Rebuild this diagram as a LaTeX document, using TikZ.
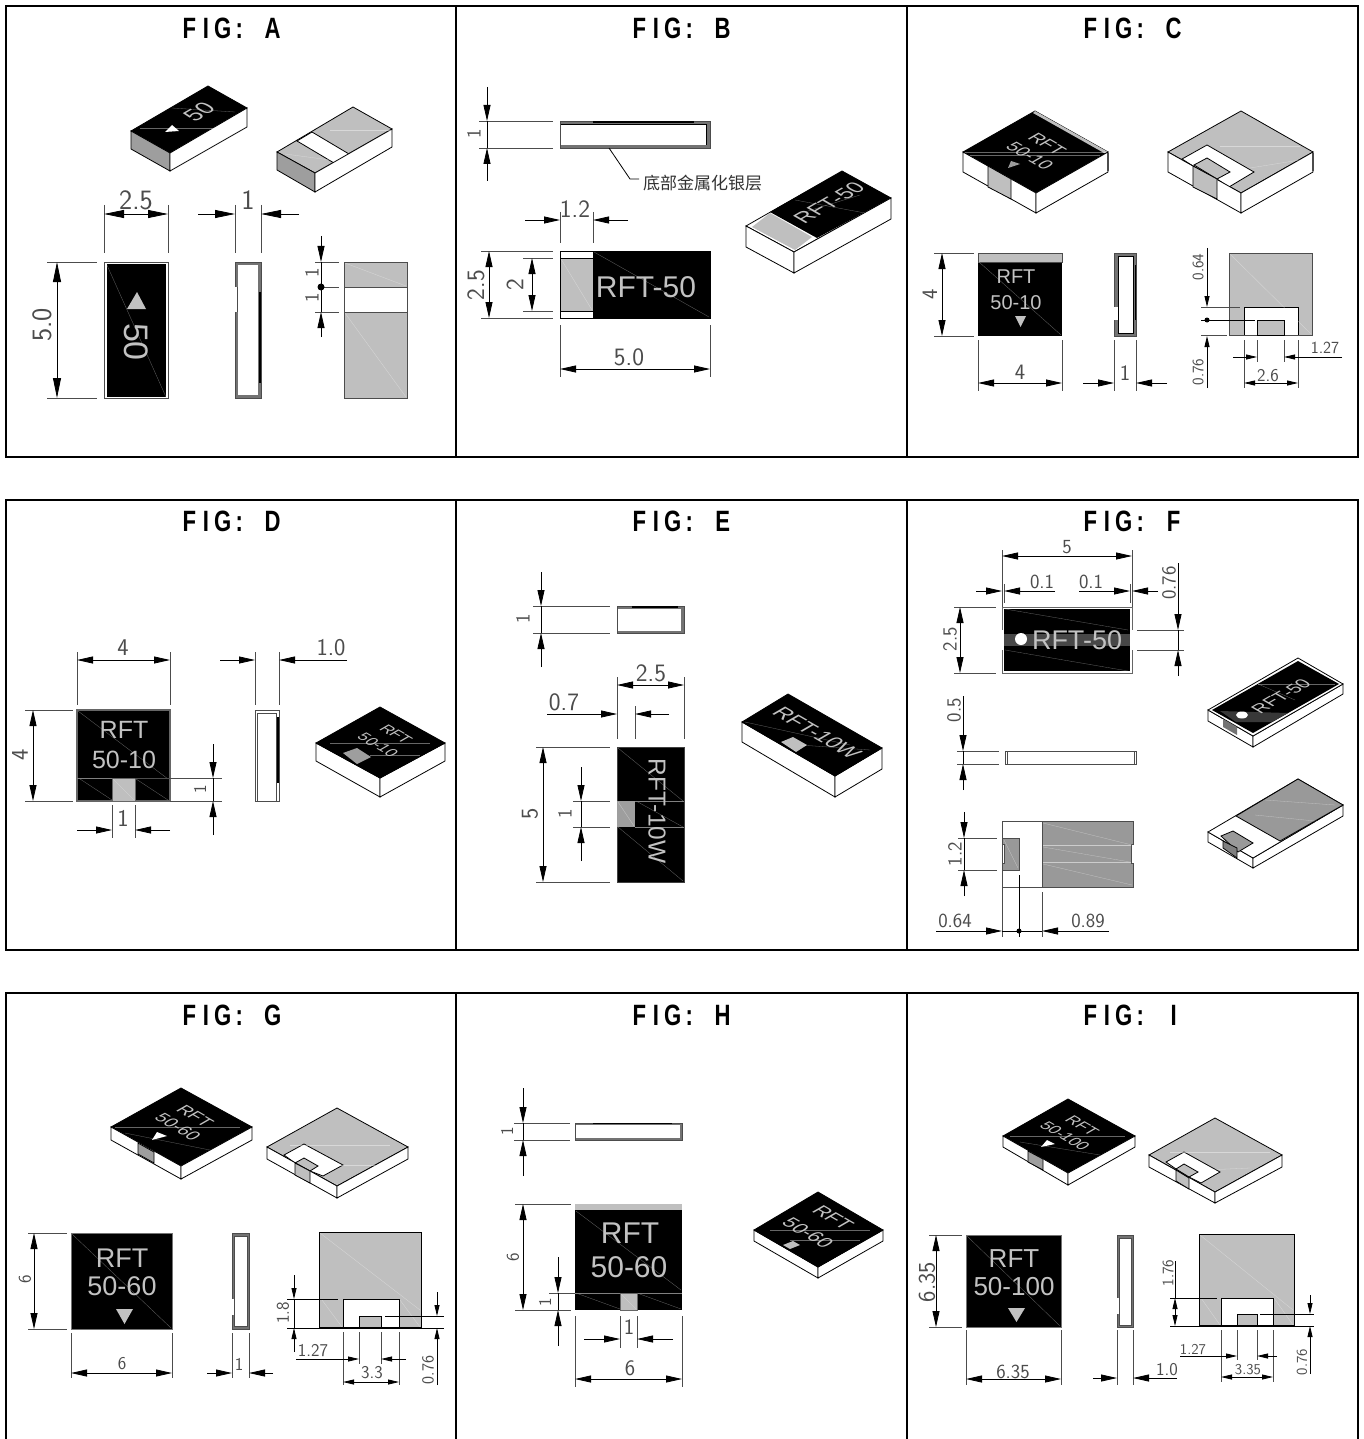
\documentclass[tikz,border=0pt]{standalone}
\usepackage{fontspec}
\setmainfont{Liberation Sans}
\newfontfamily\cjkfont{Noto Sans CJK SC}
\usetikzlibrary{arrows.meta}
\usetikzlibrary{shapes.geometric}
\definecolor{padgray}{gray}{.75}
\definecolor{sidegray}{gray}{.62}
\definecolor{textgray}{gray}{.76}
\definecolor{dimgray}{gray}{.3}
\newcommand{\figlabel}[1]{\scalebox{.85}[1.13]{\makebox[19.6pt]{F}\makebox[19.6pt]{I}\makebox[19.6pt]{G}\makebox[19.6pt]{:}\makebox[19.6pt]{}\makebox[19.6pt]{#1}}}
\tikzset{
    framebox/.style={black,line width=2pt},
    figtitle/.style={font=\bfseries\fontsize{26}{26}\selectfont,inner sep=0},
    partline/.style={black,line width=.8pt},
    ext/.style={black!70,line width=.8pt},
    dimbig/.style={black,line width=.8pt,>={Triangle[length=20pt,width=8pt]}},
    dimmid/.style={black,line width=.8pt,>={Triangle[length=16pt,width=7pt]}},
    dimtiny/.style={black,line width=.8pt,>={Triangle[length=11pt,width=5pt]}},
    dimtext/.style={font=\sffamily\fontsize{#1}{#1}\selectfont,text=dimgray,inner sep=0},
    parttext/.style={font=\fontsize{#1}{#1}\selectfont,text=textgray,inner sep=0},
    isoup/.style={cm={.866,.5,-.866,.5,(0,0)}},
    isodown/.style={cm={.866,-.5,.866,.5,(0,0)}},
    blackface/.style={fill=black,draw=black,line width=.8pt},
    grayface/.style={fill=padgray,draw=black,line width=.8pt},
    darkface/.style={fill=sidegray,draw=black,line width=.8pt},
    whiteface/.style={fill=white,draw=black,line width=.8pt},
    sidewall/.style={fill=black!55,draw=black!70,line width=.8pt},
    scratch/.style={white,opacity=.4,line width=.3pt},
    dot/.style={circle,fill=black,inner sep=0,minimum size=#1},
}
\begin{document}
\begin{tikzpicture}[x=1pt,y=-1pt]
    \useasboundingbox (0,0) rectangle (1364,1439);
    \fill[white] (0,0) rectangle (1364,1439);

    \draw[framebox] (6,6) rectangle (1358,457);
    \draw[framebox] (456,6) -- (456,457);
    \draw[framebox] (907,6) -- (907,457);
    \draw[framebox] (6,500) rectangle (1358,950);
    \draw[framebox] (456,500) -- (456,950);
    \draw[framebox] (907,500) -- (907,950);
    \draw[framebox] (6,1439) -- (6,993) -- (1358,993) -- (1358,1439);
    \draw[framebox] (456,993) -- (456,1439);
    \draw[framebox] (907,993) -- (907,1439);

    \node[figtitle] (titleA) at (231,28) {\figlabel{A}};
    \node[figtitle] (titleB) at (681,28) {\figlabel{B}};
    \node[figtitle] (titleC) at (1132,28) {\figlabel{C}};
    \node[figtitle] (titleD) at (231,521) {\figlabel{D}};
    \node[figtitle] (titleE) at (681,521) {\figlabel{E}};
    \node[figtitle] (titleF) at (1132,521) {\figlabel{F}};
    \node[figtitle] (titleG) at (231,1015) {\figlabel{G}};
    \node[figtitle] (titleH) at (681,1015) {\figlabel{H}};
    \node[figtitle] (titleI) at (1132,1015) {\figlabel{I}};

    \draw[blackface] (131,131) -- (208,86) -- (247,108) -- (170,153) -- cycle;
    \draw[darkface] (131,131) -- (170,153) -- (170,171) -- (131,149) -- cycle;
    \draw[whiteface] (170,153) -- (247,108) -- (247,127) -- (170,171) -- cycle;
    \draw[scratch] (140,128) -- (218,128);
    \draw[scratch] (172,108) -- (235,112);
    \fill[white] (172,125) -- (179,131) -- (165,132) -- cycle;
    \node[parttext=23,isoup] (isoA50) at (199,112) {50};

    \draw[grayface] (277,152) -- (353,107) -- (392,129) -- (315,173) -- cycle;
    \draw[partline,fill=white] (297,141) -- (312,132) -- (349,154) -- (334,163) -- cycle;
    \draw[darkface] (277,152) -- (315,173) -- (315,192) -- (277,170) -- cycle;
    \draw[whiteface] (315,173) -- (392,129) -- (392,147) -- (315,192) -- cycle;
    \draw[scratch] (330,130) -- (390,130);
    \draw[scratch] (285,154) -- (330,160);

    \draw[ext] (104,205) -- (104,253);
    \draw[ext] (168,205) -- (168,253);
    \draw[dimbig,<->] (104,214) -- (168,214);
    \node[dimtext=28] (dimA25) at (136,200) {2.5};
    \draw[ext] (235,205) -- (235,253);
    \draw[ext] (261,205) -- (261,253);
    \draw[dimbig,->] (198,214) -- (235,214);
    \draw[dimbig,->] (299,214) -- (261,214);
    \node[dimtext=28] (dimA1) at (248,200) {1};

    \draw[black!70,line width=1pt,fill=white] (104.5,262) rectangle (168,398);
    \fill[black] (106.5,264) rectangle (166,397);
    \draw[scratch] (106.5,264) -- (166,397);
    \fill[textgray] (137,292) -- (127,309) -- (146,309) -- cycle;
    \node[parttext=34,rotate=-90] (topA50) at (136,342) {50};
    \draw[ext] (47,262) -- (97,262);
    \draw[ext] (47,398) -- (97,398);
    \draw[dimbig,<->] (57,262) -- (57,398);
    \node[dimtext=28,rotate=90] (dimA50) at (42,325) {5.0};

    \draw[sidewall] (235.5,262) rectangle (261,398);
    \fill[white] (238,265) rectangle (258,395);
    \fill[white] (234.5,287) rectangle (238,312);
    \draw[ext] (237.5,287) -- (237.5,312);
    \draw[black,line width=2.2pt] (260,292) -- (260,383);

    \draw[grayface,draw=black!70] (344,262) rectangle (407,398);
    \draw[partline,black!70,fill=white] (344,287) rectangle (407,312);
    \draw[scratch] (345,263) -- (406,286);
    \draw[scratch] (345,313) -- (406,397);
    \draw[ext] (315,262) -- (339,262);
    \draw[ext] (321,287) -- (339,287);
    \draw[ext] (315,312) -- (339,312);
    \draw[dimmid,->] (321,236) -- (321,262);
    \draw[dimmid,->] (321,337) -- (321,312);
    \draw[partline] (321,262) -- (321,312);
    \node[dot=7pt] (dotA) at (321,287) {};
    \node[dimtext=20,rotate=90] (dimA1a) at (312,273) {1};
    \node[dimtext=20,rotate=90] (dimA1b) at (312,298) {1};

    \draw[sidewall] (560,121) rectangle (710,148);
    \fill[white] (561,124) rectangle (706,145);
    \draw[black,line width=2.4pt] (593,122) -- (694,122);
    \draw[black,line width=.8pt] (561,124) -- (706,124) -- (706,145);
    \draw[partline] (609,148) -- (630,179) -- (639,179);
    \node[anchor=west,inner sep=0,font=\cjkfont\fontsize{17}{17}\selectfont,text=black!80] (noteB) at (643,183) {底部金属化银层};
    \draw[ext] (479,121) -- (553,121);
    \draw[ext] (479,148) -- (553,148);
    \draw[dimmid,->] (487,87) -- (487,121);
    \draw[dimmid,->] (487,181) -- (487,148);
    \draw[partline] (487,121) -- (487,148);
    \node[dimtext=20,rotate=90] (dimB1) at (474,134) {1};

    \draw[partline,fill=white] (560,251) rectangle (593,318);
    \fill[padgray] (560.5,258) rectangle (593,311);
    \draw[partline] (560,258) -- (593,258);
    \draw[partline] (560,311) -- (593,311);
    \draw[blackface] (593,251) rectangle (710,318);
    \draw[scratch] (594,252) -- (709,317);
    \draw[scratch] (561,259) -- (592,310);
    \node[parttext=30] (topB) at (646,287) {RFT-50};
    \draw[ext] (560,212) -- (560,243);
    \draw[ext] (593,212) -- (593,243);
    \draw[dimmid,->] (525,220) -- (560,220);
    \draw[dimmid,->] (628,220) -- (593,220);
    \node[dimtext=25] (dimB12) at (575,209) {1.2};
    \draw[ext] (481,251) -- (553,251);
    \draw[ext] (481,318) -- (553,318);
    \draw[dimmid,<->] (489,251) -- (489,318);
    \node[dimtext=25,rotate=90] (dimB25) at (476,285) {2.5};
    \draw[ext] (523,258) -- (553,258);
    \draw[ext] (523,311) -- (553,311);
    \draw[dimmid,<->] (532,258) -- (532,311);
    \node[dimtext=25,rotate=90] (dimB2) at (515,285) {2};
    \draw[ext] (560,325) -- (560,377);
    \draw[ext] (710,325) -- (710,377);
    \draw[dimmid,<->] (560,369) -- (710,369);
    \node[dimtext=25] (dimB50) at (629,357) {5.0};

    \draw[whiteface] (746,226) -- (842,171) -- (891,198) -- (794,252) -- cycle;
    \fill[black] (770,212) -- (842,171) -- (891,198) -- (817,238) -- cycle;
    \fill[padgray] (752,227) -- (770,213) -- (812,237) -- (795,250) -- cycle;
    \draw[whiteface] (746,226) -- (794,252) -- (794,273) -- (746,247) -- cycle;
    \draw[whiteface] (794,252) -- (891,198) -- (891,219) -- (794,273) -- cycle;
    \draw[scratch] (795,200) -- (865,213);
    \draw[scratch] (795,215) -- (860,195);
    \node[parttext=21.5,isoup] (isoB) at (829,203) {RFT-50};

    \draw[blackface] (963,152) -- (1035,111) -- (1108,152) -- (1036,193) -- cycle;
    \fill[padgray] (1033,113) -- (1035,111) -- (1108,152) -- (1104,153) -- cycle;
    \draw[whiteface] (963,152) -- (1036,193) -- (1036,213) -- (963,172) -- cycle;
    \draw[whiteface] (1036,193) -- (1108,152) -- (1108,172) -- (1036,213) -- cycle;
    \draw[partline,fill=padgray] (988,166) -- (1011,179) -- (1011,199) -- (988,187) -- cycle;
    \draw[black!70,line width=2pt] (1107.5,153) -- (1107.5,171);
    \draw[scratch] (965,152) -- (1106,152);
    \draw[scratch] (970,155) -- (1100,155);
    \fill[textgray!80!black] (1011,161) -- (1020,164) -- (1008,168) -- cycle;
    \node[parttext=18,isodown] (isoCa) at (1047,144) {RFT};
    \node[parttext=18,isodown] (isoCb) at (1030,156) {50-10};

    \draw[grayface] (1168,152) -- (1241,111) -- (1313,152) -- (1241,193) -- cycle;
    \draw[partline,fill=white] (1182,159) -- (1207,145) -- (1254,172) -- (1229,187) -- (1217,179) -- (1193,166) -- cycle;
    \draw[grayface] (1194,165) -- (1207,158) -- (1230,172) -- (1217,179) -- cycle;
    \draw[whiteface] (1168,152) -- (1241,193) -- (1241,213) -- (1168,172) -- cycle;
    \draw[whiteface] (1241,193) -- (1313,152) -- (1313,172) -- (1241,213) -- cycle;
    \draw[grayface] (1193,166) -- (1217,179) -- (1217,199) -- (1193,187) -- cycle;
    \draw[black!70,line width=2pt] (1312.5,153) -- (1312.5,171);
    \draw[scratch] (1220,146) -- (1300,146);
    \draw[scratch] (1250,168) -- (1300,160);

    \fill[black] (978,253) rectangle (1062,336);
    \draw[black!70,line width=.8pt,fill=padgray] (978,253) rectangle (1062,262);
    \draw[scratch] (979,262) -- (1061,335);
    \node[parttext=20] (topCa) at (1016,277) {RFT};
    \node[parttext=20] (topCb) at (1016,303) {50-10};
    \fill[textgray] (1015,316) -- (1026,316) -- (1020.5,327) -- cycle;
    \draw[ext] (934,253) -- (974,253);
    \draw[ext] (934,336) -- (974,336);
    \draw[dimmid,<->] (942,253) -- (942,336);
    \node[dimtext=22,rotate=90] (dimC4a) at (930,294) {4};
    \draw[ext] (978,340) -- (978,391);
    \draw[ext] (1062,340) -- (1062,391);
    \draw[dimmid,<->] (978,383) -- (1062,383);
    \node[dimtext=22] (dimC4b) at (1020,372) {4};

    \draw[sidewall] (1114,253) rectangle (1136,336);
    \fill[white] (1118,256) rectangle (1133,333);
    \draw[partline] (1118,256) rectangle (1133,333);
    \fill[white] (1113,307) rectangle (1118,320);
    \draw[black,line width=1.8pt] (1135.5,265) -- (1135.5,320);
    \draw[ext] (1114,340) -- (1114,391);
    \draw[ext] (1136,340) -- (1136,391);
    \draw[dimmid,->] (1083,383) -- (1114,383);
    \draw[dimmid,->] (1167,383) -- (1136,383);
    \node[dimtext=22] (dimC1) at (1125,373) {1};

    \draw[grayface,draw=black!70] (1229,253) rectangle (1312,335);
    \draw[partline,fill=white] (1244,335) -- (1244,307) -- (1298,307) -- (1298,335);
    \draw[partline,fill=padgray] (1257,335) -- (1257,320) -- (1284,320) -- (1284,335) -- cycle;
    \draw[scratch] (1230,254) -- (1311,334);
    \draw[ext] (1201,307) -- (1240,307);
    \draw[partline] (1201,320) -- (1255,320);
    \draw[ext] (1201,335) -- (1227,335);
    \draw[dimtiny,->] (1207,248) -- (1207,307);
    \draw[dimtiny,->] (1207,388) -- (1207,336);
    \node[dot=5pt] (dotC) at (1207,320) {};
    \node[dimtext=16,rotate=90] (dimC064) at (1198,267) {0.64};
    \node[dimtext=16,rotate=90] (dimC076) at (1198,372) {0.76};
    \draw[ext] (1244,340) -- (1244,388);
    \draw[ext] (1298,340) -- (1298,388);
    \draw[ext] (1257,340) -- (1257,362);
    \draw[ext] (1284,340) -- (1284,362);
    \draw[dimtiny,->] (1233,357) -- (1257,357);
    \draw[dimtiny,->] (1342,357) -- (1284,357);
    \node[dimtext=17] (dimC127) at (1325,348) {1.27};
    \draw[dimtiny,<->] (1244,383) -- (1298,383);
    \node[dimtext=18] (dimC26) at (1268,376) {2.6};

    \fill[black] (77,710) rectangle (170,801);
    \draw[black!60,line width=1.2pt] (77,710) rectangle (170,801);
    \draw[scratch] (78,711) -- (168,779);
    \draw[scratch] (80,779) -- (112,800);
    \draw[scratch] (136,779) -- (168,800);
    \draw[ext,black!50] (77,778) -- (112,778);
    \node[parttext=25] (topDa) at (124,730) {RFT};
    \node[parttext=25] (topDb) at (124,760) {50-10};
    \draw[partline,black!60,fill=padgray] (112,778) rectangle (135,801);
    \draw[scratch] (113,779) -- (134,800);
    \draw[ext] (135,778) -- (222,778);
    \draw[ext] (170,801) -- (222,801);
    \draw[dimmid,->] (213,744) -- (213,778);
    \draw[dimmid,->] (213,835) -- (213,801);
    \draw[partline] (213,778) -- (213,801);
    \node[dimtext=18,rotate=90] (dimD1a) at (200,789) {1};
    \draw[ext] (77,652) -- (77,705);
    \draw[ext] (170,652) -- (170,705);
    \draw[dimmid,<->] (77,660) -- (170,660);
    \node[dimtext=24] (dimD4a) at (123,648) {4};
    \draw[ext] (25,710) -- (73,710);
    \draw[ext] (25,801) -- (73,801);
    \draw[dimmid,<->] (33,710) -- (33,801);
    \node[dimtext=24,rotate=90] (dimD4b) at (20,755) {4};
    \draw[ext] (112,805) -- (112,838);
    \draw[ext] (135,805) -- (135,838);
    \draw[dimmid,->] (77,830) -- (112,830);
    \draw[dimmid,->] (170,830) -- (135,830);
    \node[dimtext=24] (dimD1b) at (123,818) {1};

    \draw[ext,fill=white] (255,710) rectangle (279,801);
    \draw[ext] (257,801) -- (257,713) -- (276,713) -- (276,801);
    \draw[black,line width=2pt] (278,717) -- (278,783);
    \draw[ext] (255,652) -- (255,705);
    \draw[ext] (279,652) -- (279,705);
    \draw[dimmid,->] (220,660) -- (255,660);
    \draw[dimmid,->] (347,660) -- (279,660);
    \node[dimtext=24] (dimD10) at (331,648) {1.0};

    \draw[whiteface] (316,743) -- (380,778) -- (380,797) -- (316,761) -- cycle;
    \draw[whiteface] (380,778) -- (445,743) -- (445,761) -- (380,797) -- cycle;
    \draw[blackface] (316,743) -- (380,707) -- (445,743) -- (380,778) -- cycle;
    \fill[sidegray] (343,753) -- (357,748) -- (371,757) -- (357,764) -- cycle;
    \draw[scratch] (330,743) -- (430,743);
    \draw[scratch] (370,755) -- (420,755);
    \node[parttext=15.5,isodown] (isoDa) at (396,734) {RFT};
    \node[parttext=15.5,isodown] (isoDb) at (378,745) {50-10};

    \draw[sidewall] (617,606) rectangle (684,633);
    \fill[white] (618,609) rectangle (681,631);
    \draw[black,line width=1.8pt] (632,607) -- (678,607);
    \draw[ext] (533,606) -- (610,606);
    \draw[ext] (533,633) -- (610,633);
    \draw[dimmid,->] (541,572) -- (541,606);
    \draw[dimmid,->] (541,667) -- (541,633);
    \draw[partline] (541,606) -- (541,633);
    \node[dimtext=20,rotate=90] (dimE1a) at (523,619) {1};

    \draw[blackface,draw=black!75] (617,747) rectangle (684,882);
    \draw[scratch] (618,748) -- (683,801);
    \draw[scratch] (636,801) -- (683,827);
    \draw[scratch] (618,827) -- (683,881);
    \draw[ext,black!50] (635,801) -- (684,801);
    \draw[ext,black!50] (635,827) -- (684,827);
    \fill[sidegray] (617,801) rectangle (635,827);
    \draw[scratch] (618,802) -- (634,826);
    \node[parttext=24.5,rotate=-90] (topE) at (657,811) {RFT-10W};
    \draw[ext] (573,801) -- (610,801);
    \draw[ext] (573,827) -- (610,827);
    \draw[dimmid,->] (581,767) -- (581,801);
    \draw[dimmid,->] (581,861) -- (581,827);
    \draw[partline] (581,801) -- (581,827);
    \node[dimtext=20,rotate=90] (dimE1b) at (565,814) {1};
    \draw[ext] (536,747) -- (610,747);
    \draw[ext] (536,882) -- (610,882);
    \draw[dimmid,<->] (543,747) -- (543,882);
    \node[dimtext=24,rotate=90] (dimE5) at (530,814) {5};
    \draw[ext] (617,677) -- (617,739);
    \draw[ext] (684,677) -- (684,739);
    \draw[dimmid,<->] (617,685) -- (684,685);
    \node[dimtext=25] (dimE25) at (651,673) {2.5};
    \draw[ext] (635,706) -- (635,739);
    \draw[dimmid,->] (547,714) -- (617,714);
    \draw[dimmid,->] (669,714) -- (635,714);
    \node[dimtext=25] (dimE07) at (564,702) {0.7};

    \draw[whiteface] (742,722) -- (835,776) -- (835,797) -- (742,742) -- cycle;
    \draw[whiteface] (835,776) -- (882,748) -- (882,769) -- (835,797) -- cycle;
    \draw[blackface] (742,722) -- (788,694) -- (882,748) -- (835,776) -- cycle;
    \fill[padgray] (781,742) -- (793,737) -- (807,745) -- (796,752) -- cycle;
    \draw[scratch] (745,722) -- (850,745);
    \draw[scratch] (800,745) -- (870,750);
    \node[parttext=21.5,isodown] (isoE) at (817,733) {RFT-10W};

    \draw[ext,black!60,fill=white] (1002,607) rectangle (1132,673);
    \fill[black] (1004,609) rectangle (1130,671);
    \fill[white] (1001,630) rectangle (1004,650);
    \fill[white] (1130,630) rectangle (1133,650);
    \fill[black!72] (1004,634) rectangle (1130,646);
    \draw[scratch] (1005,609) -- (1128,630);
    \draw[scratch] (1005,650) -- (1128,671);
    \node[circle,fill=white,inner sep=0,minimum size=12pt] (holeF) at (1021,639) {};
    \node[parttext=27] (topF) at (1077,640) {RFT-50};
    \draw[ext] (1002,550) -- (1002,607);
    \draw[ext] (1132,550) -- (1132,607);
    \draw[dimmid,<->] (1002,556) -- (1132,556);
    \node[dimtext=20] (dimF5) at (1067,547) {5};
    \draw[ext] (1004,584) -- (1004,603);
    \draw[ext] (1130,584) -- (1130,603);
    \draw[dimmid,->] (976,591) -- (1002,591);
    \draw[dimmid,->] (1055,591) -- (1004,591);
    \draw[dimmid,->] (1079,591) -- (1130,591);
    \draw[dimmid,->] (1158,591) -- (1132,591);
    \node[dimtext=20] (dimF01a) at (1042,582) {0.1};
    \node[dimtext=20] (dimF01b) at (1091,582) {0.1};
    \draw[ext] (954,607) -- (996,607);
    \draw[ext] (954,673) -- (996,673);
    \draw[dimmid,<->] (960,607) -- (960,673);
    \node[dimtext=20,rotate=90] (dimF25) at (950,639) {2.5};
    \draw[ext] (1137,630) -- (1184,630);
    \draw[ext] (1137,650) -- (1184,650);
    \draw[dimmid,->] (1178,563) -- (1178,630);
    \draw[dimmid,->] (1178,676) -- (1178,650);
    \draw[partline] (1178,630) -- (1178,650);
    \node[dimtext=20,rotate=90] (dimF076) at (1169,583) {0.76};

    \draw[ext,fill=white] (1005,751) rectangle (1136,764);
    \draw[ext] (1007,751) -- (1007,764);
    \draw[ext] (1134,751) -- (1134,764);
    \draw[ext] (957,751) -- (999,751);
    \draw[ext] (957,764) -- (999,764);
    \draw[dimmid,->] (963,696) -- (963,751);
    \draw[dimmid,->] (963,790) -- (963,764);
    \draw[partline] (963,751) -- (963,764);
    \node[dimtext=20,rotate=90] (dimF05) at (954,710) {0.5};

    \fill[black!40] (1042,821) -- (1133,821) -- (1133,844) -- (1131,844) -- (1131,863) -- (1133,863) -- (1133,887) -- (1042,887) -- cycle;
    \draw[black!70,line width=.8pt] (1042,821) -- (1002,821) -- (1002,887) -- (1042,887);
    \draw[black!70,line width=.8pt] (1042,821) -- (1133,821) -- (1133,844) -- (1131,844) -- (1131,863) -- (1133,863) -- (1133,887) -- (1042,887) -- cycle;
    \draw[white,opacity=.5,line width=.9pt] (1043,845) -- (1131,845);
    \draw[white,opacity=.5,line width=.9pt] (1043,862) -- (1131,862);
    \draw[scratch] (1043,823) -- (1132,845);
    \draw[scratch] (1043,847) -- (1130,862);
    \draw[scratch] (1043,864) -- (1132,885);
    \draw[black!70,line width=.8pt,fill=black!40] (1002,838) -- (1019,838) -- (1019,870) -- (1002,870) -- (1002,863) -- (1004,863) -- (1004,844) -- (1002,844) -- cycle;
    \draw[scratch] (1004,840) -- (1018,868);
    \draw[ext] (958,838) -- (997,838);
    \draw[ext] (958,870) -- (997,870);
    \draw[dimmid,->] (964,812) -- (964,838);
    \draw[dimmid,->] (964,896) -- (964,870);
    \draw[partline] (964,838) -- (964,870);
    \node[dimtext=20,rotate=90] (dimF12) at (955,854) {1.2};
    \draw[ext] (1002,887) -- (1002,937);
    \draw[partline] (1019,875) -- (1019,937);
    \draw[ext] (1042,892) -- (1042,937);
    \draw[dimmid,->] (936,931) -- (1002,931);
    \draw[dimmid,->] (1109,931) -- (1042,931);
    \draw[partline] (1002,931) -- (1042,931);
    \node[dot=5pt] (dotF) at (1019,931) {};
    \node[dimtext=20] (dimF064) at (955,921) {0.64};
    \node[dimtext=20] (dimF089) at (1088,921) {0.89};

    \draw[whiteface] (1208,710) -- (1253,736) -- (1253,747) -- (1208,721) -- cycle;
    \draw[whiteface] (1253,736) -- (1343,684) -- (1343,694) -- (1253,747) -- cycle;
    \draw[whiteface] (1208,710) -- (1298,658) -- (1343,684) -- (1253,736) -- cycle;
    \fill[black] (1212,710) -- (1298,661) -- (1339,684) -- (1253,733) -- cycle;
    \fill[black!55] (1223,719) -- (1237,727) -- (1237,735) -- (1223,727) -- cycle;
    \fill[black!78] (1220,711) -- (1288,713) -- (1272,722) -- (1236,722) -- cycle;
    \draw[scratch] (1258,684) -- (1295,700);
    \draw[scratch] (1258,684) -- (1335,684);
    \node[ellipse,fill=white,inner sep=0,minimum width=12pt,minimum height=7pt] (holeFiso) at (1242,715) {};
    \node[parttext=18,isoup] (isoF) at (1281,696) {RFT-50};

    \draw[whiteface] (1208,832) -- (1253,858) -- (1253,868) -- (1208,842) -- cycle;
    \draw[whiteface] (1253,858) -- (1343,805) -- (1343,816) -- (1253,868) -- cycle;
    \draw[whiteface] (1208,832) -- (1298,779) -- (1343,805) -- (1253,858) -- cycle;
    \draw[partline,fill=black!40] (1236,816) -- (1298,779) -- (1343,805) -- (1280,841) -- cycle;
    \draw[partline,fill=black!40] (1221,836) -- (1233,831) -- (1253,843) -- (1238,852) -- cycle;
    \draw[partline,fill=black!50] (1223,841) -- (1237,848) -- (1237,858) -- (1223,848) -- cycle;
    \draw[scratch] (1265,800) -- (1335,805);
    \draw[scratch] (1255,815) -- (1325,822);

    \draw[blackface] (111,1127) -- (181,1088) -- (252,1127) -- (181,1166) -- cycle;
    \draw[whiteface] (111,1127) -- (181,1166) -- (181,1179) -- (111,1140) -- cycle;
    \draw[whiteface] (181,1166) -- (252,1127) -- (252,1140) -- (181,1179) -- cycle;
    \draw[partline,fill=sidegray] (138,1143) -- (154,1152) -- (154,1163) -- (138,1154) -- cycle;
    \draw[scratch] (115,1127) -- (240,1127);
    \draw[scratch] (125,1133) -- (210,1150);
    \fill[white] (157,1132) -- (167,1136) -- (152,1140) -- cycle;
    \node[parttext=17.5,isodown] (isoGa) at (195,1116) {RFT};
    \node[parttext=17.5,isodown] (isoGb) at (178,1127) {50-60};

    \draw[grayface] (267,1147) -- (337,1108) -- (408,1147) -- (337,1186) -- cycle;
    \draw[partline,fill=white] (284,1155) -- (304,1144) -- (343,1165) -- (323,1176) -- (310,1171) -- (295,1163) -- cycle;
    \draw[grayface] (295,1163) -- (304,1158) -- (318,1166) -- (310,1171) -- cycle;
    \draw[whiteface] (267,1147) -- (337,1186) -- (337,1198) -- (267,1159) -- cycle;
    \draw[whiteface] (337,1186) -- (408,1147) -- (408,1159) -- (337,1198) -- cycle;
    \draw[grayface] (295,1163) -- (310,1171) -- (310,1183) -- (295,1175) -- cycle;
    \draw[scratch] (290,1145) -- (390,1145);
    \draw[scratch] (330,1165) -- (375,1165);

    \fill[black] (71,1233) rectangle (172,1329);
    \draw[black!55,line width=1pt] (71,1233) rectangle (172,1329);
    \draw[scratch] (72,1234) -- (171,1328);
    \node[parttext=27] (topGa) at (122,1258) {RFT};
    \node[parttext=27] (topGb) at (122,1286) {50-60};
    \fill[textgray] (116,1309) -- (133,1309) -- (124.5,1324) -- cycle;
    \draw[ext] (28,1233) -- (67,1233);
    \draw[ext] (28,1329) -- (67,1329);
    \draw[dimmid,<->] (34,1233) -- (34,1329);
    \node[dimtext=18,rotate=90] (dimG6a) at (25,1279) {6};
    \draw[ext] (71,1333) -- (71,1378);
    \draw[ext] (172,1333) -- (172,1378);
    \draw[dimmid,<->] (71,1373) -- (172,1373);
    \node[dimtext=18] (dimG6b) at (122,1364) {6};

    \draw[sidewall] (232,1233) rectangle (249,1329);
    \fill[white] (234,1236) rectangle (247,1326);
    \draw[ext] (234,1236) rectangle (247,1326);
    \fill[white] (231,1299) rectangle (234,1315);
    \draw[ext] (232,1333) -- (232,1378);
    \draw[ext] (249,1333) -- (249,1378);
    \draw[dimmid,->] (207,1373) -- (232,1373);
    \draw[dimmid,->] (273,1373) -- (249,1373);
    \node[dimtext=18] (dimG1) at (239,1364) {1};

    \draw[partline,fill=padgray] (319,1232) rectangle (421,1328);
    \draw[scratch] (320,1233) -- (420,1310);
    \draw[scratch] (322,1300) -- (342,1327);
    \draw[scratch] (400,1300) -- (420,1327);
    \draw[partline,fill=white] (343,1328) -- (343,1299) -- (399,1299) -- (399,1328);
    \draw[partline,fill=padgray] (359,1328) -- (359,1316) -- (381,1316) -- (381,1328) -- cycle;
    \draw[partline,line width=1.3pt] (319,1328) -- (421,1328);
    \draw[partline] (287,1299) -- (338,1299);
    \draw[partline] (287,1328) -- (319,1328);
    \draw[dimtiny,->] (294,1275) -- (294,1299);
    \draw[dimtiny,->] (294,1352) -- (294,1328);
    \draw[partline] (294,1299) -- (294,1328);
    \node[dimtext=18,rotate=90] (dimG18) at (283,1313) {1.8};
    \draw[ext] (359,1332) -- (359,1364);
    \draw[ext] (381,1332) -- (381,1364);
    \draw[ext] (343,1332) -- (343,1385);
    \draw[ext] (399,1332) -- (399,1385);
    \draw[dimtiny,->] (296,1359) -- (359,1359);
    \draw[dimtiny,->] (406,1359) -- (381,1359);
    \node[dimtext=18] (dimG127) at (313,1351) {1.27};
    \draw[dimtiny,<->] (343,1382) -- (399,1382);
    \node[dimtext=18] (dimG33) at (372,1373) {3.3};
    \draw[partline] (385,1316) -- (444,1316);
    \draw[partline] (421,1328) -- (444,1328);
    \draw[dimtiny,->] (437,1292) -- (437,1316);
    \draw[dimtiny,->] (437,1385) -- (437,1328);
    \node[dimtext=17,rotate=90] (dimG076) at (428,1370) {0.76};

    \draw[sidewall] (575,1123) rectangle (682,1140);
    \fill[white] (576,1125) rectangle (680,1138);
    \draw[black,line width=1.5pt] (593,1123.5) -- (672,1123.5);
    \draw[ext] (514,1123) -- (570,1123);
    \draw[ext] (514,1140) -- (570,1140);
    \draw[dimmid,->] (523,1088) -- (523,1123);
    \draw[dimmid,->] (523,1176) -- (523,1140);
    \draw[partline] (523,1123) -- (523,1140);
    \node[dimtext=18,rotate=90] (dimH1a) at (507,1131) {1};

    \fill[black] (575,1204) rectangle (682,1310);
    \fill[padgray] (575,1204) rectangle (682,1210);
    \draw[scratch] (576,1211) -- (681,1290);
    \draw[scratch] (576,1293) -- (620,1309);
    \draw[scratch] (637,1293) -- (681,1309);
    \draw[ext,black!50] (575,1293) -- (620,1293);
    \draw[ext,black!50] (637,1293) -- (682,1293);
    \node[parttext=30] (topHa) at (630,1233) {RFT};
    \node[parttext=30] (topHb) at (629,1267) {50-60};
    \draw[partline,black!60,fill=padgray] (620,1293) rectangle (637,1310);
    \draw[scratch] (621,1294) -- (636,1309);
    \draw[ext] (515,1204) -- (571,1204);
    \draw[ext] (515,1310) -- (571,1310);
    \draw[dimmid,<->] (523,1204) -- (523,1310);
    \node[dimtext=18,rotate=90] (dimH6a) at (513,1257) {6};
    \draw[ext] (549,1293) -- (575,1293);
    \draw[dimmid,->] (558,1257) -- (558,1293);
    \draw[dimmid,->] (558,1346) -- (558,1310);
    \draw[partline] (558,1293) -- (558,1310);
    \node[dimtext=18,rotate=90] (dimH1b) at (545,1302) {1};
    \draw[ext] (620,1316) -- (620,1348);
    \draw[ext] (637,1316) -- (637,1348);
    \draw[dimmid,->] (584,1339) -- (620,1339);
    \draw[dimmid,->] (673,1339) -- (637,1339);
    \node[dimtext=22] (dimH1c) at (629,1327) {1};
    \draw[ext] (575,1316) -- (575,1387);
    \draw[ext] (682,1316) -- (682,1387);
    \draw[dimmid,<->] (575,1379) -- (682,1379);
    \node[dimtext=22] (dimH6b) at (630,1368) {6};

    \draw[whiteface] (754,1230) -- (818,1267) -- (818,1278) -- (754,1241) -- cycle;
    \draw[whiteface] (818,1267) -- (883,1230) -- (883,1241) -- (818,1278) -- cycle;
    \draw[blackface] (754,1230) -- (818,1192) -- (883,1230) -- (818,1267) -- cycle;
    \fill[padgray] (783,1245) -- (793,1241) -- (800,1245) -- (790,1249) -- cycle;
    \draw[scratch] (770,1230) -- (870,1230);
    \draw[scratch] (790,1240) -- (860,1240);
    \node[parttext=19.5,isodown] (isoHa) at (833,1218) {RFT};
    \node[parttext=19.5,isodown] (isoHb) at (808,1233) {50-60};

    \draw[blackface] (1003,1136) -- (1068,1099) -- (1135,1136) -- (1068,1173) -- cycle;
    \draw[whiteface] (1003,1136) -- (1068,1173) -- (1068,1185) -- (1003,1147) -- cycle;
    \draw[whiteface] (1068,1173) -- (1135,1136) -- (1135,1147) -- (1068,1185) -- cycle;
    \draw[partline,fill=sidegray] (1028,1151) -- (1043,1159) -- (1043,1170) -- (1028,1162) -- cycle;
    \draw[scratch] (1010,1136) -- (1125,1136);
    \draw[scratch] (1020,1142) -- (1100,1155);
    \fill[white] (1047,1140) -- (1055,1144) -- (1041,1147) -- cycle;
    \node[parttext=16,isodown] (isoIa) at (1082,1126) {RFT};
    \node[parttext=16,isodown] (isoIb) at (1065,1136) {50-100};

    \draw[grayface] (1149,1155) -- (1215,1118) -- (1282,1155) -- (1215,1192) -- cycle;
    \draw[partline,fill=white] (1166,1162) -- (1184,1152) -- (1220,1172) -- (1201,1183) -- (1189,1177) -- (1176,1169) -- cycle;
    \draw[grayface] (1176,1169) -- (1184,1164) -- (1198,1172) -- (1189,1177) -- cycle;
    \draw[whiteface] (1149,1155) -- (1215,1192) -- (1215,1203) -- (1149,1167) -- cycle;
    \draw[whiteface] (1215,1192) -- (1282,1155) -- (1282,1167) -- (1215,1203) -- cycle;
    \draw[grayface] (1176,1170) -- (1189,1178) -- (1189,1189) -- (1176,1181) -- cycle;
    \draw[scratch] (1170,1152) -- (1270,1152);
    \draw[scratch] (1205,1170) -- (1250,1168);

    \fill[black] (966,1235) rectangle (1061,1327);
    \draw[black!55,line width=1pt] (966,1235) rectangle (1061,1327);
    \draw[scratch] (967,1236) -- (1060,1326);
    \node[parttext=26] (topIa) at (1014,1259) {RFT};
    \node[parttext=26] (topIb) at (1014,1287) {50-100};
    \fill[textgray] (1008,1308) -- (1025,1308) -- (1016.5,1322) -- cycle;
    \draw[ext] (929,1235) -- (962,1235);
    \draw[ext] (929,1327) -- (962,1327);
    \draw[dimmid,<->] (936,1235) -- (936,1327);
    \node[dimtext=24,rotate=90] (dimI635a) at (927,1282) {6.35};
    \draw[ext] (966,1330) -- (966,1385);
    \draw[ext] (1061,1330) -- (1061,1385);
    \draw[dimmid,<->] (966,1379) -- (1061,1379);
    \node[dimtext=20] (dimI635b) at (1013,1372) {6.35};

    \draw[sidewall] (1117,1235) rectangle (1133,1327);
    \fill[white] (1119,1238) rectangle (1131,1325);
    \draw[ext] (1119,1238) rectangle (1131,1325);
    \fill[white] (1116,1298) rectangle (1119,1314);
    \draw[ext] (1117,1330) -- (1117,1385);
    \draw[ext] (1133,1330) -- (1133,1385);
    \draw[dimmid,->] (1093,1378) -- (1117,1378);
    \draw[dimmid,->] (1177,1378) -- (1133,1378);
    \node[dimtext=18] (dimI10) at (1167,1370) {1.0};

    \draw[partline,fill=padgray] (1199,1234) rectangle (1294,1326);
    \draw[scratch] (1200,1235) -- (1293,1310);
    \draw[scratch] (1201,1298) -- (1220,1325);
    \draw[scratch] (1274,1298) -- (1293,1325);
    \draw[partline,fill=white] (1221,1326) -- (1221,1298) -- (1273,1298) -- (1273,1326);
    \draw[partline,fill=padgray] (1237,1326) -- (1237,1314) -- (1257,1314) -- (1257,1326) -- cycle;
    \draw[partline,line width=1.3pt] (1199,1326) -- (1294,1326);
    \draw[partline] (1170,1298) -- (1217,1298);
    \draw[partline] (1170,1326) -- (1199,1326);
    \draw[partline] (1175,1261) -- (1175,1298);
    \draw[dimtiny,<->] (1175,1298) -- (1175,1326);
    \node[dimtext=16,rotate=90] (dimI176) at (1168,1273) {1.76};
    \draw[ext] (1237,1330) -- (1237,1360);
    \draw[ext] (1257,1330) -- (1257,1360);
    \draw[ext] (1221,1330) -- (1221,1382);
    \draw[ext] (1273,1330) -- (1273,1382);
    \draw[dimtiny,->] (1180,1356) -- (1237,1356);
    \draw[dimtiny,->] (1277,1356) -- (1257,1356);
    \node[dimtext=15] (dimI127) at (1193,1349) {1.27};
    \draw[dimtiny,<->] (1221,1377) -- (1273,1377);
    \node[dimtext=15] (dimI335) at (1248,1370) {3.35};
    \draw[partline] (1260,1314) -- (1314,1314);
    \draw[partline] (1294,1326) -- (1314,1326);
    \draw[dimtiny,->] (1310,1295) -- (1310,1314);
    \draw[dimtiny,->] (1310,1374) -- (1310,1326);
    \node[dimtext=15,rotate=90] (dimI076) at (1302,1362) {0.76};
\end{tikzpicture}
\end{document}
